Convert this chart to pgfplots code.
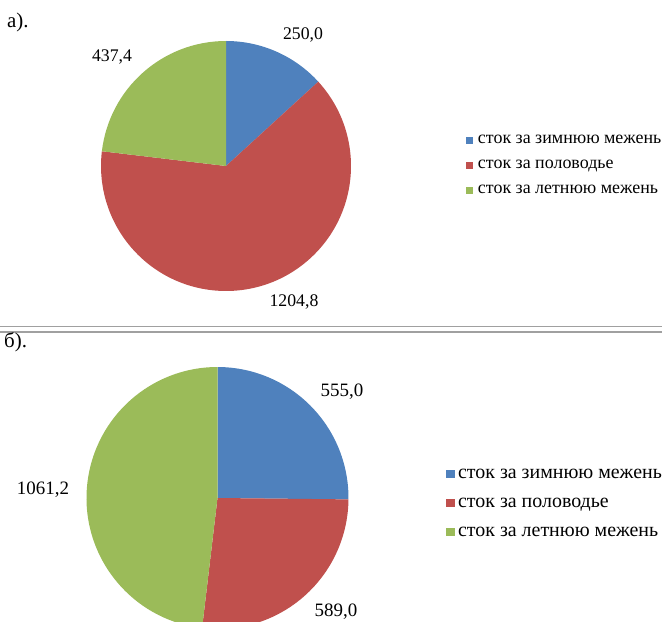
\documentclass[border=0pt]{standalone}
\usepackage{fontspec}
\setmainfont{Liberation Serif}
\usepackage{pgfplots}
\pgfplotsset{compat=1.18}
\definecolor{cblue}{HTML}{4F81BD}
\definecolor{cred}{HTML}{C0504D}
\definecolor{cgreen}{HTML}{9BBB59}
\definecolor{sep}{HTML}{A0A0A0}
% data: panel a
\def\aW{250.0}\def\aF{1204.8}\def\aS{437.4}
% data: panel b
\def\bW{555.0}\def\bF{589.0}\def\bS{1061.2}
\pgfmathsetmacro\aT{\aW+\aF+\aS}
\pgfmathsetmacro\aOne{90-360*(\aW/\aT)}
\pgfmathsetmacro\aTwo{\aOne-360*(\aF/\aT)}
\pgfmathsetmacro\aThree{\aTwo-360*(\aS/\aT)}
\pgfmathsetmacro\bT{\bW+\bF+\bS}
\pgfmathsetmacro\bOne{90-360*(\bW/\bT)}
\pgfmathsetmacro\bTwo{\bOne-360*(\bF/\bT)}
\pgfmathsetmacro\bThree{\bTwo-360*(\bS/\bT)}
\pgfplotsset{
  piechart/.style={
    width=662bp, scale only axis, hide axis, xmin=0, xmax=662, ymin=0,
    legend cell align=left,
  }
}
\begin{document}
\begin{tikzpicture}
\useasboundingbox (0,-622bp) rectangle (662bp,0);
% ---------- panel a ----------
\begin{axis}[piechart, at={(0,-322bp)}, anchor=south west, height=322bp, ymax=322,
  legend style={at={(0.703,0.488)}, anchor=west, draw=none, fill=none,
    font=\fontsize{18}{21}\selectfont, inner sep=0pt, row sep=8bp, column sep=5bp,
    nodes={inner sep=1bp, text height=11bp, text depth=4bp}},
  legend image code/.code={\fill[#1] (0bp,-3bp) rectangle (6bp,3bp);}]
\fill[cblue]  (axis cs:226,156) -- ++(90:125bp) arc[start angle=90, end angle=\aOne, radius=125bp] -- cycle;
\fill[cred]   (axis cs:226,156) -- ++(\aOne:125bp) arc[start angle=\aOne, end angle=\aTwo, radius=125bp] -- cycle;
\fill[cgreen] (axis cs:226,156) -- ++(\aTwo:125bp) arc[start angle=\aTwo, end angle=\aThree, radius=125bp] -- cycle;
\node[font=\fontsize{17.8}{21}\selectfont] at (axis cs:303,287) {250,0};
\node[font=\fontsize{17.8}{21}\selectfont] at (axis cs:112,265) {437,4};
\node[font=\fontsize{17.8}{21}\selectfont] at (axis cs:294,20) {1204,8};
\addlegendimage{cblue}\addlegendentry{сток за зимнюю межень}
\addlegendimage{cred}\addlegendentry{сток за половодье}
\addlegendimage{cgreen}\addlegendentry{сток за летнюю межень}
\end{axis}
% ---------- panel b ----------
\begin{axis}[piechart, at={(0,-622bp)}, anchor=south west, height=290bp, ymax=290,
  legend style={at={(0.673,0.410)}, anchor=west, draw=none, fill=none,
    font=\fontsize{20}{23}\selectfont, inner sep=0pt, row sep=11bp, column sep=3bp,
    nodes={inner sep=1bp, text height=12bp, text depth=4bp}},
  legend image code/.code={\fill[#1] (0bp,-3.5bp) rectangle (8bp,3.5bp);}]
\fill[cblue]  (axis cs:217.5,124) -- ++(90:131bp) arc[start angle=90, end angle=\bOne, radius=131bp] -- cycle;
\fill[cred]   (axis cs:217.5,124) -- ++(\bOne:131bp) arc[start angle=\bOne, end angle=\bTwo, radius=131bp] -- cycle;
\fill[cgreen] (axis cs:217.5,124) -- ++(\bTwo:131bp) arc[start angle=\bTwo, end angle=\bThree, radius=131bp] -- cycle;
\node[font=\fontsize{19}{23}\selectfont] at (axis cs:342,230) {555,0};
\node[font=\fontsize{19}{23}\selectfont] at (axis cs:43,132) {1061,2};
\node[font=\fontsize{19}{23}\selectfont] at (axis cs:336,10) {589,0};
\addlegendimage{cblue}\addlegendentry{сток за зимнюю межень}
\addlegendimage{cred}\addlegendentry{сток за половодье}
\addlegendimage{cgreen}\addlegendentry{сток за летнюю межень}
\end{axis}
% separators and panel labels
\draw[sep, line width=1.3bp] (0,-326.5bp) -- (662bp,-326.5bp);
\draw[sep, line width=1.3bp] (0,-332bp) -- (662bp,-332bp);
\node[anchor=west, inner sep=0pt, font=\fontsize{21}{25}\selectfont] at (7bp,-22bp) {а).};
\node[anchor=west, inner sep=0pt, font=\fontsize{21}{25}\selectfont] at (4bp,-342bp) {б).};
\end{tikzpicture}
\end{document}
